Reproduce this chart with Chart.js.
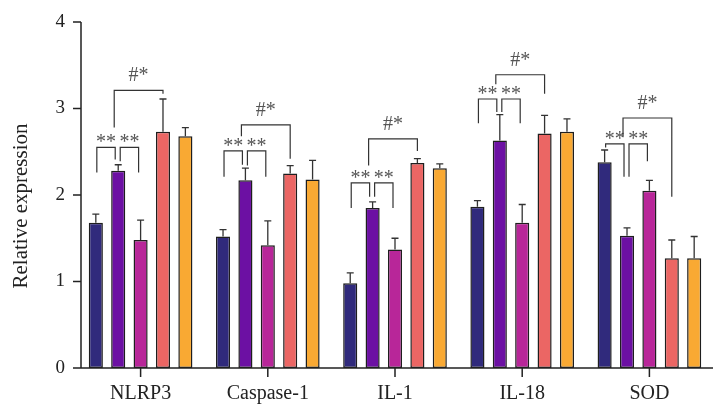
<!DOCTYPE html>
<html>
<head>
<meta charset="utf-8">
<script src="https://cdn.jsdelivr.net/npm/chart.js@4/dist/chart.umd.min.js"></script>
<style>
  html, body { margin: 0; padding: 0; background: #fff; }
  #wrap { width: 713px; height: 417px; }
</style>
</head>
<body>
<div id="wrap"><canvas id="chart"></canvas></div>
<script>
// categories and the five groups (bar heights + upper error)
const categories = ['NLRP3', 'Caspase-1', 'IL-1', 'IL-18', 'SOD'];
const group1 = [1.68, 1.52, 0.98, 1.865, 2.38];
const group2 = [2.28, 2.17, 1.85, 2.63, 1.53];
const group3 = [1.48, 1.42, 1.37, 1.68, 2.05];
const group4 = [2.73, 2.25, 2.37, 2.71, 1.27];
const group5 = [2.68, 2.18, 2.31, 2.73, 1.27];
const err1 = [0.10, 0.08, 0.12, 0.07, 0.14];
const err2 = [0.07, 0.14, 0.07, 0.30, 0.09];
const err3 = [0.23, 0.28, 0.13, 0.21, 0.12];
const err4 = [0.38, 0.09, 0.05, 0.21, 0.21];
const err5 = [0.10, 0.22, 0.05, 0.15, 0.25];
const yTicks = [0, 1, 2, 3, 4];

// significance brackets, heights in data units
const starTops = [2.55, 2.51, 2.14, 3.11, 2.59];   // "**" brackets
const hashTops = [3.21, 2.81, 2.65, 3.39, 2.89];   // "#*" brackets
const legA = [[2.26, 2.41], [2.21, 2.35], [1.85, 1.98], [2.83, 2.96], [2.55, 2.21]];
const legB = [[2.39, 2.26], [2.34, 2.21], [1.98, 1.85], [2.96, 2.83], [2.21, 2.39]];
const legC = [[2.78, 3.17], [2.68, 2.42], [2.34, 2.51], [3.28, 3.17], [2.68, 1.98]];

const colors = ['#302a7c', '#6c10a3', '#b82699', '#eb6664', '#f9a933'];
const values = [group1, group2, group3, group4, group5];
const errors = [err1, err2, err3, err4, err5];

const serif = '"Liberation Serif", "DejaVu Serif", serif';

const overlay = {
    id: 'overlay',
    afterDatasetsDraw(chart) {
        const { ctx, chartArea, scales: { x, y } } = chart;
        const barX = (di, i) => chart.getDatasetMeta(di).data[i].x;
        ctx.save();

        // error bars (upper only)
        ctx.strokeStyle = '#333';
        ctx.lineWidth = 1.3;
        values.forEach((vals, di) => {
            vals.forEach((v, i) => {
                const cx = barX(di, i);
                const y0 = y.getPixelForValue(v);
                const y1 = y.getPixelForValue(v + errors[di][i]);
                ctx.beginPath();
                ctx.moveTo(cx, y0);
                ctx.lineTo(cx, y1);
                ctx.moveTo(cx - 3.5, y1);
                ctx.lineTo(cx + 3.5, y1);
                ctx.stroke();
            });
        });

        // axes
        const ax = chartArea.left + 4;
        const y0 = y.getPixelForValue(0);
        ctx.strokeStyle = '#222';
        ctx.lineWidth = 1.5;
        ctx.beginPath();
        ctx.moveTo(ax, y.getPixelForValue(4));
        ctx.lineTo(ax, y0);
        yTicks.forEach(t => {
            const py = y.getPixelForValue(t);
            ctx.moveTo(ax - 8, py);
            ctx.lineTo(ax, py);
        });
        ctx.moveTo(ax - 8, y0);
        ctx.lineTo(chartArea.right, y0);
        categories.forEach((c, i) => {
            const px = x.getPixelForValue(i);
            ctx.moveTo(px, y0);
            ctx.lineTo(px, y0 + 9);
        });
        ctx.stroke();

        // brackets
        const bracket = (xl, xr, top, yl, yr, label, gap) => {
            const pt = y.getPixelForValue(top);
            ctx.strokeStyle = '#333';
            ctx.lineWidth = 1.2;
            ctx.beginPath();
            ctx.moveTo(xl, y.getPixelForValue(yl));
            ctx.lineTo(xl, pt);
            ctx.lineTo(xr, pt);
            ctx.lineTo(xr, y.getPixelForValue(yr));
            ctx.stroke();
            ctx.fillStyle = '#555';
            ctx.font = '20px ' + serif;
            ctx.textAlign = 'center';
            ctx.textBaseline = 'alphabetic';
            ctx.fillText(label, (xl + xr) / 2, pt - gap);
        };
        categories.forEach((c, i) => {
            bracket(barX(0, i) + 1, barX(1, i) - 3, starTops[i], legA[i][0], legA[i][1], '**', -1);
            bracket(barX(1, i) + 2, barX(2, i) - 2, starTops[i], legB[i][0], legB[i][1], '**', -1);
            bracket(barX(1, i) - 4, barX(3, i), hashTops[i], legC[i][0], legC[i][1], '#*', 9);
        });

        // y axis title
        ctx.save();
        ctx.translate(21, 206);
        ctx.rotate(-Math.PI / 2);
        ctx.fillStyle = '#222';
        ctx.font = '21px ' + serif;
        ctx.textAlign = 'center';
        ctx.textBaseline = 'middle';
        ctx.fillText('Relative expression', 0, 0);
        ctx.restore();

        ctx.restore();
    }
};

new Chart(document.getElementById('chart'), {
    type: 'bar',
    data: {
        labels: categories,
        datasets: values.map((vals, di) => ({
            label: 'Group ' + (di + 1),
            data: vals,
            backgroundColor: colors[di],
            borderColor: '#1e1e1e',
            borderWidth: 1.5,
            borderSkipped: false,
            categoryPercentage: 0.88,
            barPercentage: 0.63
        }))
    },
    options: {
        responsive: true,
        maintainAspectRatio: false,
        animation: false,
        layout: { padding: { top: 22, right: 0, left: 0, bottom: 0 } },
        plugins: { legend: { display: false }, tooltip: { enabled: false } },
        scales: {
            x: {
                grid: { display: false },
                border: { display: false },
                ticks: { color: '#222', font: { family: serif, size: 20 }, padding: 6 },
                afterFit: s => { s.height = 49; }
            },
            y: {
                min: 0,
                max: 4,
                grid: { display: false },
                border: { display: false },
                ticks: { stepSize: 1, color: '#222', font: { family: serif, size: 19 }, padding: 4 },
                afterFit: s => { s.width = 77; }
            }
        }
    },
    plugins: [overlay]
});
</script>
</body>
</html>
